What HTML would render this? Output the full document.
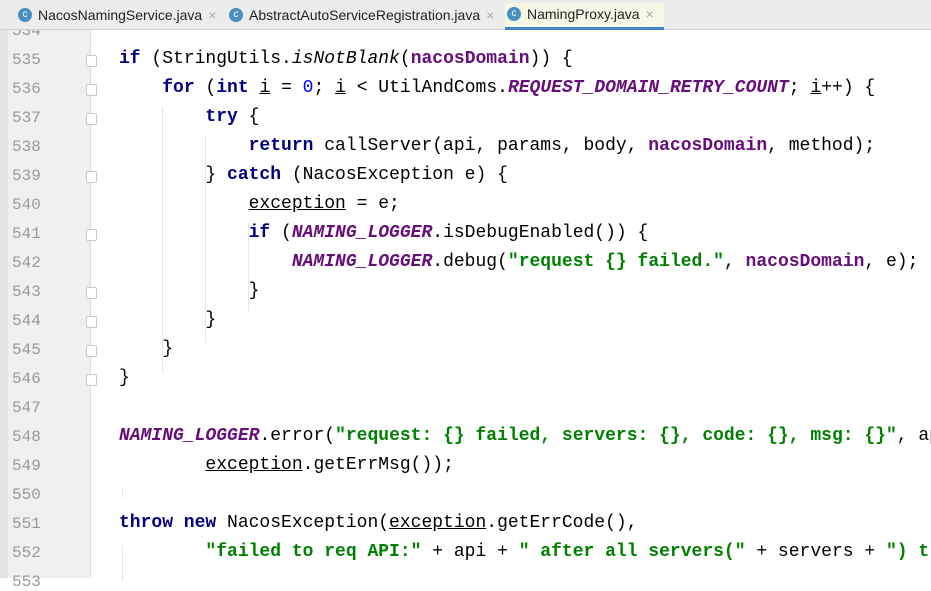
<!DOCTYPE html>
<html><head><meta charset="utf-8"><style>
body{margin:0;width:931px;height:578px;overflow:hidden;background:#fff;position:relative;font-family:"Liberation Sans",sans-serif}
.tabs{position:absolute;left:0;top:0;width:931px;height:29px;background:#ececec;border-bottom:1px solid #d0d0d0;z-index:5}
.tab{position:absolute;top:4px;height:22px;font-size:14px;line-height:22px;color:#222;padding-left:22px}
.tab i{position:absolute;left:2px;top:4px;width:14px;height:14px;border-radius:50%;background:#4a8fc0;color:#fff;font-style:normal;font-size:10px;line-height:14px;text-align:center}
.tab span{color:#aaa;margin-left:6px}
.act{background:#f7f7e6;border-bottom:3px solid #4083c9;height:24px;top:3px}
.strip{position:absolute;left:0;top:30px;width:8px;height:548px;background:#e4e4e4}
.gut{position:absolute;left:8px;top:0;width:82px;height:578px;background:#f0f0f0;border-right:1px solid #ddd}
.ln{position:absolute;left:12px;font-size:16px;color:#999;font-family:"Liberation Mono",monospace;width:40px}
.code{position:absolute;left:119px;font-family:"Liberation Mono",monospace;font-size:18px;white-space:pre;color:#000}
.k{color:#000080;font-weight:bold}.p{color:#660e7a;font-weight:bold}.pi{color:#660e7a;font-weight:bold;font-style:italic}
.s{color:#008000;font-weight:bold}.n{color:#0000ff}.it{font-style:italic}.u{text-decoration:underline}
.fold{position:absolute;left:86px;width:9px;height:10px;border:1px solid #c8c8c8;background:#fff;border-radius:2px}
.guide{position:absolute;width:1px;background:#e6e6e6}
</style></head><body>
<div class="tabs">
<div class="tab" style="left:16px"><i>c</i>NacosNamingService.java<span>×</span></div>
<div class="tab" style="left:227px"><i>c</i>AbstractAutoServiceRegistration.java<span>×</span></div>
<div class="tab act" style="left:505px;padding-right:10px"><i>c</i>NamingProxy.java<span>×</span></div>
</div>
<div class="strip"></div><div class="gut"></div>
<div class="guide" style="left:162px;top:107px;height:265px"></div>
<div class="guide" style="left:205px;top:136px;height:207px"></div>
<div class="guide" style="left:248px;top:223px;height:90px"></div>
<div class="guide" style="left:122px;top:488px;height:10px"></div>
<div class="guide" style="left:122px;top:546px;height:35px"></div>
<div id="c"></div>
<script>
var L={534:'',535:'<span class="k">if</span> (StringUtils.<span class="it">isNotBlank</span>(<span class="p">nacosDomain</span>)) {',
536:'    <span class="k">for</span> (<span class="k">int</span> <span class="u">i</span> = <span class="n">0</span>; <span class="u">i</span> &lt; UtilAndComs.<span class="pi">REQUEST_DOMAIN_RETRY_COUNT</span>; <span class="u">i</span>++) {',
537:'        <span class="k">try</span> {',
538:'            <span class="k">return</span> callServer(api, params, body, <span class="p">nacosDomain</span>, method);',
539:'        } <span class="k">catch</span> (NacosException e) {',
540:'            <span class="u">exception</span> = e;',
541:'            <span class="k">if</span> (<span class="pi">NAMING_LOGGER</span>.isDebugEnabled()) {',
542:'                <span class="pi">NAMING_LOGGER</span>.debug(<span class="s">"request {} failed."</span>, <span class="p">nacosDomain</span>, e);',
543:'            }',544:'        }',545:'    }',546:'}',547:'',
548:'<span class="pi">NAMING_LOGGER</span>.error(<span class="s">"request: {} failed, servers: {}, code: {}, msg: {}"</span>, api',
549:'        <span class="u">exception</span>.getErrMsg());',550:'',
551:'<span class="k">throw new</span> NacosException(<span class="u">exception</span>.getErrCode(),',
552:'        <span class="s">"failed to req API:"</span> + api + <span class="s">" after all servers("</span> + servers + <span class="s">") tr</span>',553:''};
var h='';
for(var n=534;n<=553;n++){var y=61+29*(n-535);
h+='<div class="ln" style="top:'+(y-10)+'px">'+n+'</div>';
h+='<div class="code" style="top:'+(y-12)+'px">'+L[n]+'</div>';}
[535,536,537,541,539,543,544,545,546].forEach(function(n){h+='<div class="fold" style="top:'+(61+29*(n-535)-6)+'px"></div>'});
document.getElementById('c').innerHTML=h;
</script>
</body></html>
